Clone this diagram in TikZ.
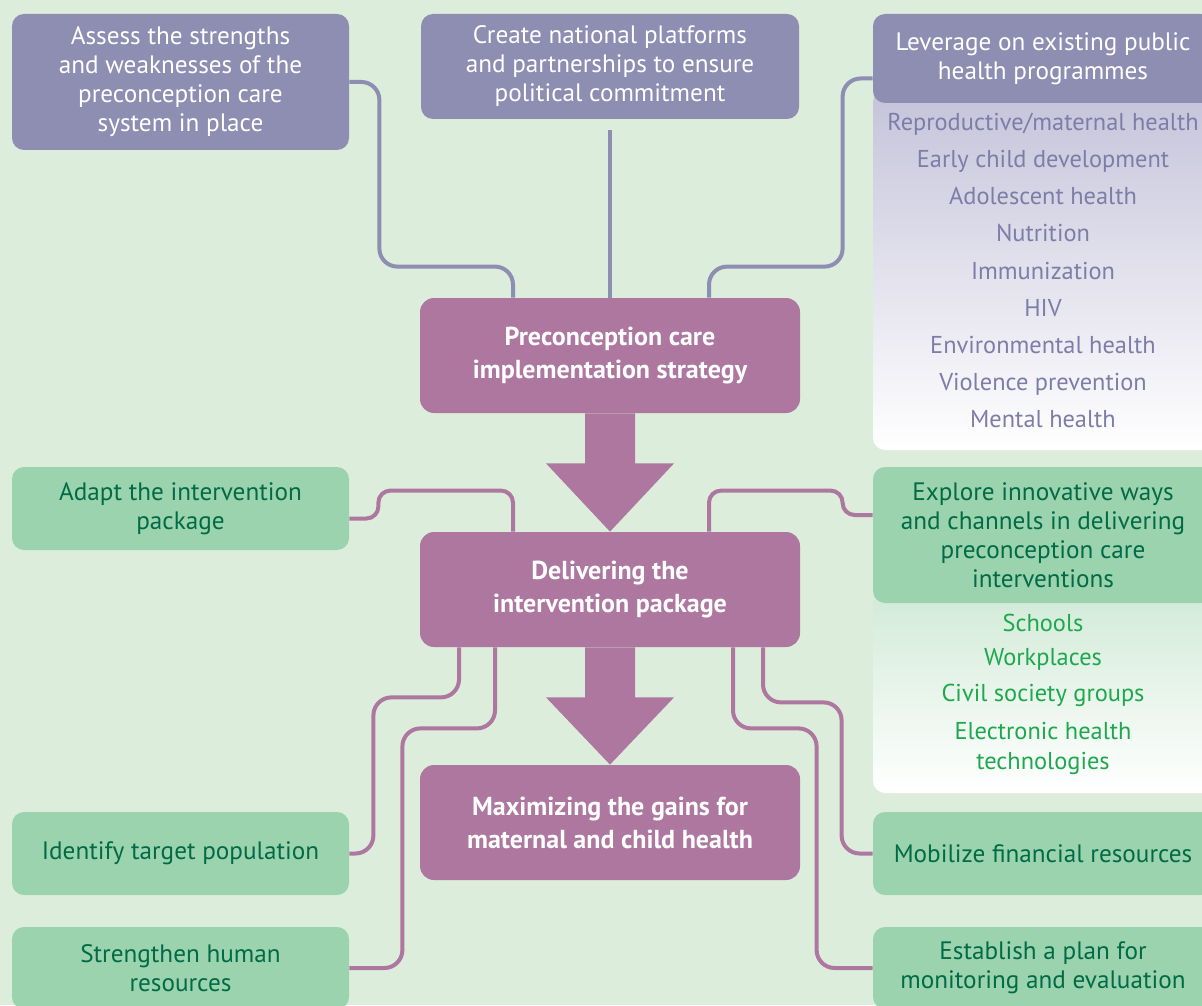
\documentclass[tikz,border=0pt]{standalone}
\usepackage{fontspec}
\setmainfont{PT Sans}
\usepackage{xcolor}
\usetikzlibrary{positioning, calc}

\definecolor{bgGreen}{HTML}{DDEDDC}
\definecolor{planPurple}{HTML}{8E8DB2}
\definecolor{coreMauve}{HTML}{AD77A0}
\definecolor{actGreen}{HTML}{9BD3AE}
\definecolor{actText}{HTML}{006B45}
\definecolor{listPurple}{HTML}{7E7DA8}
\definecolor{listGreen}{HTML}{1EA84E}
\definecolor{panelPurple}{HTML}{C5C3DA}
\definecolor{panelGreen}{HTML}{D2EAD7}

\begin{document}
\begin{tikzpicture}[x=0.5pt, y=-0.5pt,
    planbox/.style={fill=planPurple, text=white, rounded corners=6pt, inner sep=0pt, minimum width=168.5pt, align=center, font=\fontsize{12.6}{14.5}\selectfont},
    corebox/.style={fill=coreMauve, text=white, rounded corners=7pt, inner sep=0pt, minimum width=190pt, minimum height=57.5pt, align=center, font=\bfseries\fontsize{13}{16.5}\selectfont},
    actbox/.style={fill=actGreen, text=actText, rounded corners=6pt, inner sep=0pt, minimum width=168.5pt, align=center, font=\fontsize{12.6}{14.5}\selectfont},
    progitem/.style={text=listPurple, inner sep=0pt, text height=9pt, text depth=3pt, font=\fontsize{12.2}{14.5}\selectfont},
    channel/.style={text=listGreen, inner sep=0pt, align=center, font=\fontsize{12.2}{15}\selectfont},
    planline/.style={draw=planPurple, line width=2pt, rounded corners=9pt},
    actline/.style={draw=coreMauve, line width=2pt, rounded corners=9pt},
    bigarrow/.style={fill=coreMauve}
]
    \useasboundingbox (0,0) rectangle (1202,1005);
    \clip (0,0) rectangle (1202,1005);
    \fill[bgGreen] (0,0) rectangle (1202,1005);

    % list panels behind the right-hand boxes
    \shade[top color=panelPurple, bottom color=white, rounded corners=6pt] (873,90) rectangle (1225,450);
    \shade[top color=panelGreen, bottom color=white, rounded corners=6pt] (873,590) rectangle (1225,793);

    % planning boxes
    \node[planbox, minimum height=68pt] (assess) at (180.5,82) {Assess the strengths\\and weaknesses of the\\preconception care\\system in place};
    \node[planbox, minimum width=189pt, minimum height=52.5pt] (create) at (610,66.5) {Create national platforms\\and partnerships to ensure\\political commitment};
    \node[planbox, minimum width=170pt, minimum height=44.5pt] (lever) at (1043,58.5) {Leverage on existing public\\health programmes};

    % programmes
    \foreach \prog [count=\i] in {Reproductive/maternal health, Early child development, Adolescent health, Nutrition, Immunization, HIV, Environmental health, Violence prevention, Mental health}
        \node[progitem] (prog\i) at (1043,88+37*\i) {\prog};

    % core steps
    \node[corebox] (pcs) at (610,355.5) {Preconception care\\implementation strategy};
    \node[corebox] (dlv) at (610,589.5) {Delivering the\\intervention package};
    \node[corebox] (gains) at (610,822.5) {Maximizing the gains for\\maternal and child health};

    % block arrows
    \fill[bigarrow] ($(pcs.south)+(-25,0)$) -- ++(0,50) -- ++(-39,0) -- (dlv.north) -- ($(pcs.south)+(64,50)$) -- ++(-39,0) -- ($(pcs.south)+(25,0)$) -- cycle;
    \fill[bigarrow] ($(dlv.south)+(-25,0)$) -- ++(0,50) -- ++(-39,0) -- (gains.north) -- ($(dlv.south)+(64,50)$) -- ++(-39,0) -- ($(dlv.south)+(25,0)$) -- cycle;

    % action boxes
    \node[actbox, minimum height=41.5pt] (adapt) at (180.5,508.5) {Adapt the intervention\\package};
    \node[actbox, minimum width=170pt, minimum height=68pt] (explore) at (1043,535) {Explore innovative ways\\and channels in delivering\\preconception care\\interventions};
    \node[actbox, minimum height=41.5pt] (identify) at (180.5,853.5) {Identify target population};
    \node[actbox, minimum height=41pt] (strengthen) at (180.5,968) {Strengthen human\\resources};
    \node[actbox, minimum width=170pt, minimum height=41.5pt] (mobilize) at (1043,853.5) {Mobilize financial resources};
    \node[actbox, minimum width=170pt, minimum height=41pt] (establish) at (1043,968) {Establish a plan for\\monitoring and evaluation};

    % channels
    \node[channel] (schools) at (1043,623) {Schools};
    \node[channel] (work) at (1043,659) {Workplaces};
    \node[channel] (civil) at (1043,695) {Civil society groups};
    \node[channel] (ehealth) at (1043,748) {Electronic health\\technologies};

    % planning connectors
    \draw[planline] (assess.east) -- ++(30,0) |- ($(pcs.north)+(-97,-31)$) -- ($(pcs.north)+(-97,0)$);
    \draw[planline, rounded corners=0pt, shorten <=5.5pt] (create.south) -- (pcs.north);
    \draw[planline] ($(lever.west)+(0,20)$) -- ++(-30,0) |- ($(pcs.north)+(99,-31)$) -- ($(pcs.north)+(99,0)$);

    % action connectors
    \draw[actline, rounded corners=6pt] ($(adapt.east)+(0,10)$) -- ++(29,0) |- ($(dlv.north)+(-97,-41)$) -- ($(dlv.north)+(-97,0)$);
    \draw[actline, rounded corners=6pt] ($(explore.west)+(0,-20)$) -- ++(-30,0) |- ($(dlv.north)+(99,-41)$) -- ($(dlv.north)+(99,0)$);
    \draw[actline] ($(dlv.south)+(-151,0)$) -- ++(0,50) -| ($(identify.east)+(24,0)$) -- (identify.east);
    \draw[actline] ($(dlv.south)+(-115,0)$) -- ++(0,81) -| ($(strengthen.east)+(53,0)$) -- (strengthen.east);
    \draw[actline] ($(dlv.south)+(153,0)$) -- ++(0,55) -| ($(mobilize.west)+(-31,0)$) -- (mobilize.west);
    \draw[actline] ($(dlv.south)+(123,0)$) -- ++(0,81) -| ($(establish.west)+(-56,0)$) -- (establish.west);
\end{tikzpicture}
\end{document}
